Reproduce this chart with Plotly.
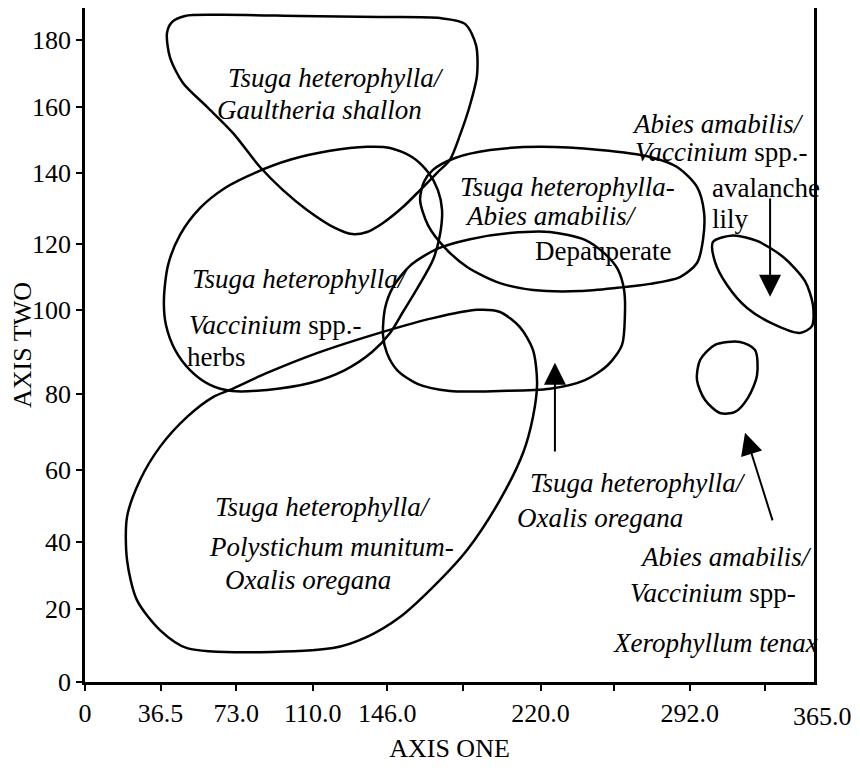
import plotly.graph_objects as go

FONT = "Liberation Serif, Times New Roman, serif"

# axis ticks as printed on the figure
x_tickvals = [0, 36.5, 73, 110, 146, 182.5, 220, 255.5, 292, 328.5]
x_ticktext = ["0", "36.5", "73.0", "110.0", "146.0", "", "220.0", "", "292.0", ""]
x_end_label = "365.0"
x_end_pos = 356
x_max = 352
y_max = 186.9
# the scanned axis is hand-ticked, so the marks are not evenly spaced
y_tickvals = [0, 20.2, 38.8, 58.8, 79.9, 103.2, 121.5, 141.2, 159.5, 178.0]
y_ticktext = ["0", "20", "40", "60", "80", "100", "120", "140", "160", "180"]

# community outlines (AXIS ONE, AXIS TWO)
gaultheria_x = [42.0, 48.3, 65.2, 103.8, 142.4, 171.4, 183.5, 188.8, 189.3, 185.9, 181.1, 176.2, 170.0,
                161.8, 153.5, 143.9, 136.2, 129.0, 120.7, 107.2, 95.6, 84.5, 71.5, 58.9, 47.3, 41.0, 39.6, 42.0]
gaultheria_y = [183.0, 184.7, 185.0, 184.7, 184.4, 184.1, 182.5, 176.6, 168.3, 160.0, 151.7, 144.8, 141.2,
                136.4, 131.7, 127.3, 124.8, 124.2, 125.9, 130.9, 136.4, 142.8, 152.2, 159.5, 166.1, 173.3, 180.0, 183.0]

herbs_x = [38.1, 40.1, 45.9, 55.5, 67.6, 82.1, 99.0, 118.3, 136.2, 147.3, 157.9, 165.6, 170.4, 172.4, 171.4,
           168.0, 160.8, 153.5, 147.3, 138.6, 125.5, 108.6, 87.9, 71.0, 60.4, 50.7, 43.5, 39.1, 38.1]
herbs_y = [105.9, 115.6, 124.0, 131.4, 137.0, 141.2, 144.8, 147.3, 148.4, 148.1, 145.6, 141.4, 136.4, 130.9,
           124.0, 117.0, 109.5, 102.6, 96.8, 91.5, 86.5, 82.9, 81.0, 80.7, 82.4, 86.5, 92.1, 99.0, 105.9]

depauperate_x = [168.0, 178.7, 195.6, 219.7, 248.7, 272.8, 285.9, 295.5, 298.9, 298.4, 295.5, 287.3, 272.8,
                 256.9, 239.0, 216.3, 200.4, 184.5, 173.8, 165.6, 161.8, 163.7, 168.0]
depauperate_y = [142.0, 145.3, 147.5, 148.4, 147.5, 145.6, 142.8, 137.3, 130.3, 122.6, 116.2, 112.3, 110.4,
                 109.3, 108.4, 108.7, 110.6, 115.1, 120.4, 126.7, 133.7, 138.7, 142.0]

oxalis_x = [143.9, 144.9, 148.7, 156.9, 170.0, 185.9, 205.2, 224.5, 241.4, 251.1, 257.4, 260.3, 260.7, 259.3,
            252.5, 241.4, 224.5, 200.4, 176.2, 160.8, 150.7, 145.8, 143.9]
oxalis_y = [96.2, 103.7, 109.5, 115.4, 120.1, 122.8, 124.5, 124.8, 122.6, 118.7, 114.3, 108.7, 101.8, 93.5,
            87.9, 83.7, 81.3, 80.7, 80.7, 82.6, 86.5, 91.2, 96.2]

polystichum_x = [70.0, 87.9, 112.0, 143.9, 168.0, 189.3, 200.4, 210.0, 216.3, 218.3, 216.3, 211.5, 200.4, 184.5,
                 168.0, 152.1, 136.2, 119.7, 49.3, 36.2, 25.1, 20.3, 20.3, 26.6, 36.2, 49.3, 61.8, 70.0]
polystichum_y = [81.0, 85.7, 91.2, 97.1, 100.9, 103.2, 102.6, 98.4, 92.1, 82.9, 73.5, 63.5, 50.5, 36.6,
                 26.3, 18.0, 12.5, 9.4, 9.4, 14.4, 22.7, 33.8, 45.8, 56.0, 65.2, 73.5, 79.0, 81.0]

avalanche_x = [303.2, 312.9, 324.5, 337.0, 347.6, 351.5, 351.0, 345.2, 332.2, 319.7, 310.0, 304.2, 303.2]
avalanche_y = [122.0, 123.8, 122.3, 117.9, 111.2, 104.5, 98.7, 96.8, 99.3, 103.7, 110.1, 116.5, 122.0]

xerophyllum_x = [297.0, 304.2, 316.3, 323.5, 324.5, 320.1, 313.9, 306.6, 299.4, 295.5, 297.0]
xerophyllum_y = [89.3, 93.5, 94.3, 92.1, 85.1, 78.8, 74.9, 74.6, 78.2, 83.7, 89.3]

outlines = [
    (gaultheria_x, gaultheria_y),
    (herbs_x, herbs_y),
    (depauperate_x, depauperate_y),
    (oxalis_x, oxalis_y),
    (polystichum_x, polystichum_y),
    (avalanche_x, avalanche_y),
    (xerophyllum_x, xerophyllum_y),
]

# community names, one entry per printed line
label_text = [
    "<i>Tsuga heterophylla/</i>", "<i>Gaultheria shallon</i>",
    "<i>Tsuga heterophylla/</i>", "<i>Vaccinium</i> spp.-", "herbs",
    "<i>Tsuga heterophylla-</i>", "<i>Abies amabilis/</i>", "Depauperate",
    "<i>Abies amabilis/</i>", "<i>Vaccinium</i> spp.-", "avalanche", "lily",
    "<i>Tsuga heterophylla/</i>", "<i>Polystichum munitum-</i>", "<i>Oxalis oregana</i>",
    "<i>Tsuga heterophylla/</i>", "<i>Oxalis oregana</i>",
    "<i>Abies amabilis/</i>", "<i>Vaccinium</i> spp-", "<i>Xerophyllum tenax</i>",
]
label_x = [68.1, 62.8,
           50.7, 49.3, 48.3,
           180.1, 182.5, 216.3,
           263.2, 264.6, 301.8, 301.8,
           61.8, 58.9, 66.6,
           213.9, 207.6,
           267.0, 262.2, 254.0]
label_y = [167.4, 158.5,
           111.8, 99.0, 90.1,
           137.3, 129.2, 119.5,
           154.7, 147.0, 137.0, 128.4,
           48.5, 37.4, 28.3,
           55.2, 45.5,
           34.7, 24.7, 10.8]

# arrows pointing from labels to their outlines
arrow_tail_x = [330.8, 226.9, 332.2]
arrow_tail_y = [134.5, 63.5, 44.4]
arrow_tip_x = [330.8, 226.9, 318.7]
arrow_tip_y = [106.8, 88.5, 69.1]


def plot_ordination(outlines):
    fig = go.Figure()

    for xs, ys in outlines:
        fig.add_trace(go.Scatter(
            x=xs,
            y=ys,
            mode='lines',
            line=dict(color='black', width=2.5, shape='spline', smoothing=0.8),
            hoverinfo='skip',
            showlegend=False,
        ))

    for text, x, y in zip(label_text, label_x, label_y):
        fig.add_annotation(
            x=x, y=y, text=text,
            showarrow=False,
            xanchor='left', yanchor='middle',
            font=dict(family=FONT, size=27, color='black'),
        )

    for tx, ty, hx, hy in zip(arrow_tail_x, arrow_tail_y, arrow_tip_x, arrow_tip_y):
        fig.add_annotation(
            x=hx, y=hy, ax=tx, ay=ty,
            xref='x', yref='y', axref='x', ayref='y',
            text='', showarrow=True,
            arrowhead=2, arrowsize=2.2, arrowwidth=2, arrowcolor='black',
        )

    # last x label sits past the final tick, under the right frame
    fig.add_annotation(
        x=x_end_pos / x_max, y=0, xref='paper', yref='paper',
        text=x_end_label, showarrow=False,
        xanchor='center', yanchor='top', yshift=-18,
        font=dict(family=FONT, size=26, color='black'),
    )

    axis_style = dict(
        showline=True,
        linecolor='black',
        linewidth=2.5,
        mirror=True,
        showgrid=False,
        zeroline=False,
        automargin=False,
        ticks='outside',
        ticklen=6,
        tickwidth=2,
        tickcolor='black',
        tickfont=dict(family=FONT, size=26, color='black'),
    )
    # short inner ticks so the marks cross the axis lines
    inner_ticks = dict(
        showline=False,
        showgrid=False,
        zeroline=False,
        showticklabels=False,
        automargin=False,
        ticks='inside',
        ticklen=4,
        tickwidth=2,
        tickcolor='black',
    )

    fig.update_layout(
        width=860,
        height=775,
        margin=dict(l=77, r=54, t=0, b=101),
        paper_bgcolor='white',
        plot_bgcolor='white',
        font=dict(family=FONT, color='black'),
        xaxis=dict(
            range=[0, x_max],
            tickvals=x_tickvals,
            ticktext=x_ticktext,
            title=dict(text='AXIS ONE', font=dict(family=FONT, size=26), standoff=12),
            **axis_style,
        ),
        yaxis=dict(
            range=[0, y_max],
            tickvals=y_tickvals,
            ticktext=y_ticktext,
            title=dict(text='AXIS TWO', font=dict(family=FONT, size=26), standoff=16),
            **axis_style,
        ),
        xaxis2=dict(
            overlaying='x', side='bottom', matches='x',
            tickvals=x_tickvals,
            **inner_ticks,
        ),
        yaxis2=dict(
            overlaying='y', side='left', matches='y',
            tickvals=y_tickvals,
            **inner_ticks,
        ),
    )

    return fig


fig = plot_ordination(outlines)
fig.write_html("out.html")
